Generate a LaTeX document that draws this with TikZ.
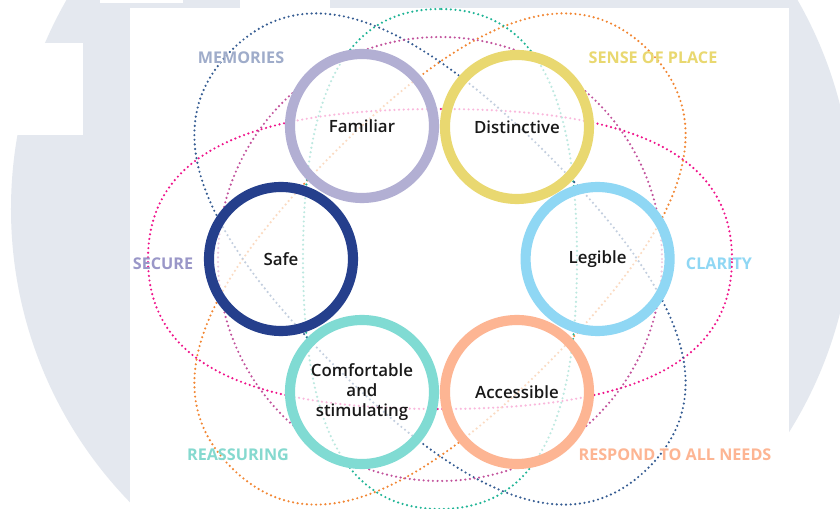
\documentclass[tikz,border=0pt]{standalone}
\usepackage{fontspec}
\setmainfont{Open Sans}
\IfFontExistsTF{Open Sans Semibold}
  {\newfontfamily\semibold{Open Sans Semibold}}
  {\newcommand{\semibold}{\bfseries}}

\definecolor{backcol}{HTML}{E4E8EF}
\definecolor{famcol}{HTML}{B2AFD3}
\definecolor{discol}{HTML}{E9D870}
\definecolor{legcol}{HTML}{8FD7F4}
\definecolor{safecol}{HTML}{253F8C}
\definecolor{comcol}{HTML}{80DBD3}
\definecolor{acccol}{HTML}{FDB593}
\definecolor{memcol}{HTML}{9FACCA}
\definecolor{seccol}{HTML}{9A97C8}
\definecolor{reacol}{HTML}{85D9CF}
\definecolor{dotblue}{HTML}{355C92}
\definecolor{dotteal}{HTML}{1FB596}
\definecolor{dotorange}{HTML}{F28633}
\definecolor{dotpink}{HTML}{F0128A}
\definecolor{dotmag}{HTML}{C2529C}

\tikzset{
ring/.style={ % the six coloured rings
  circle, draw=#1, line width=7.2pt, minimum size=3.6cm,
  fill=white, fill opacity=0.7, text opacity=1,
  text=black!90, align=center,
  font=\semibold\fontsize{12}{14}\selectfont},
halo/.style={ % dotted ovals behind the rings
  draw=#1, line width=1.7pt, dash pattern=on 0pt off 3.3pt,
  line cap=round},
tag/.style={ % outer captions
  text=#1, font=\bfseries\fontsize{11.5}{14}\selectfont}}

% oval from four curves: colour, angle, half length, half width
\newcommand{\drawhalo}[4]{%
  \pgfmathsetmacro{\hA}{#3}\pgfmathsetmacro{\hB}{#4}%
  \pgfmathsetmacro{\kA}{0.68*#3}\pgfmathsetmacro{\kB}{0.68*#4}%
  \draw[halo=#1, rotate=#2] (\hA,0)
    .. controls (\hA,\kB) and (\kA,\hB) .. (0,\hB)
    .. controls (-\kA,\hB) and (-\hA,\kB) .. (-\hA,0)
    .. controls (-\hA,-\kB) and (-\kA,-\hB) .. (0,-\hB)
    .. controls (\kA,-\hB) and (\hA,-\kB) .. cycle;}

\begin{document}
\begin{tikzpicture}
	\useasboundingbox (-11,-6.25) rectangle (10,6.475);
	\clip (-11,-6.25) rectangle (10,6.475);
	% page background
	\fill[white] (-11,-6.25) rectangle (10,6.475);
	\fill[backcol] (-0.2,1.25) circle[radius=10.525];
	\fill[white] (-11,3.1) rectangle (-8.925,5.4);
	\fill[white] (-8.5,6.4) rectangle (-6.425,6.5);
	\fill[white] (-5,6.275) rectangle (-2.75,6.5);
	\fill[white] (-7.75,-6.3) rectangle (8.725,6.275);

	% dotted ovals
	\drawhalo{dotpink}{0}{7.3}{3.75}
	\drawhalo{dotorange}{45}{7.375}{3.75}
	\drawhalo{dotteal}{90}{6.25}{3.425}
	\drawhalo{dotblue}{-45}{7.375}{3.75}
	\draw[halo=dotmag] (0,0) circle[radius=5.55];

	% rings
	\node[ring=legcol] (legible) at (3.94,0) {Legible};
	\node[ring=discol] (distinctive) at (1.925,3.3) {Distinctive};
	\node[ring=famcol] (familiar) at (-1.95,3.325) {Familiar};
	\node[ring=safecol] (safe) at (-3.975,0) {Safe};
	\node[ring=comcol] (comfortable) at (-1.95,-3.325) {Comfortable\\and\\stimulating};
	\node[ring=acccol] (accessible) at (1.925,-3.325) {Accessible};

	% captions
	\node[tag=memcol] (memories) at (-4.975,5.025) {MEMORIES};
	\node[tag=discol] (sense) at (5.325,5.025) {SENSE OF PLACE};
	\node[tag=seccol] (secure) at (-6.925,-0.125) {SECURE};
	\node[tag=legcol] (clarity) at (6.975,-0.125) {CLARITY};
	\node[tag=reacol] (reassuring) at (-5.05,-4.9) {REASSURING};
	\node[tag=acccol] (needs) at (5.875,-4.9) {RESPOND TO ALL NEEDS};
\end{tikzpicture}
\end{document}
